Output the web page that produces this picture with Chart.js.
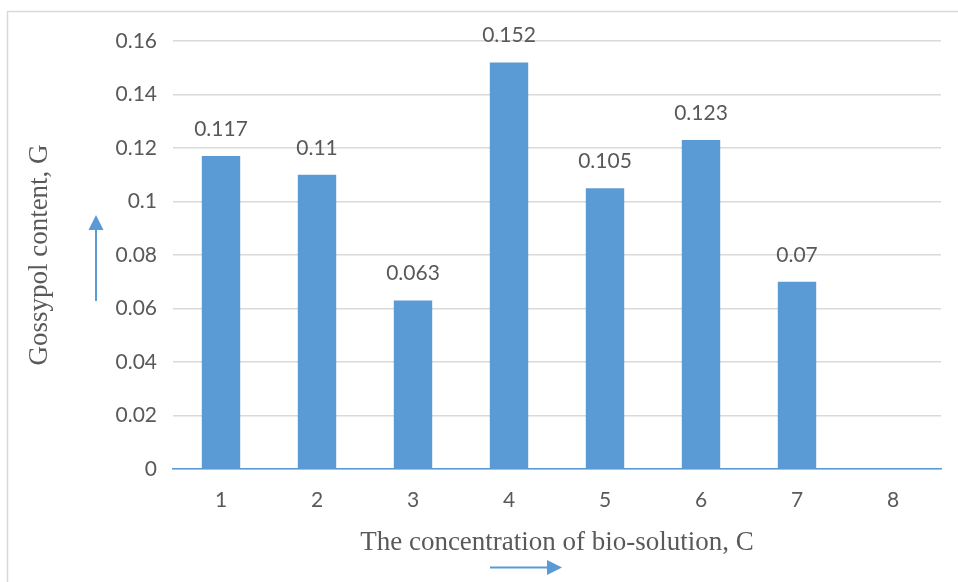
<!DOCTYPE html>
<html>
<head>
<meta charset="utf-8">
<script src="https://cdn.jsdelivr.net/npm/chart.js@4.4.1/dist/chart.umd.min.js"></script>
<style>
  html, body { margin: 0; padding: 0; background: #ffffff; }
  #wrap { position: relative; width: 958px; height: 582px; }
</style>
</head>
<body>
<div id="wrap"><canvas id="chart" width="958" height="582"></canvas></div>
<script>
// Concentration levels of the bio-solution (x categories)
const categories = ['1', '2', '3', '4', '5', '6', '7', '8'];
// Gossypol content measured at each concentration
const gossypol = [0.117, 0.11, 0.063, 0.152, 0.105, 0.123, 0.07, 0];
// Value-axis ticks
const yTicks = [0, 0.02, 0.04, 0.06, 0.08, 0.1, 0.12, 0.14, 0.16];

const xTitle = 'The concentration of bio-solution, C';
const yTitle = 'Gossypol content, G';

const BLUE = '#5B9BD5';
const TEXT = '#595959';
const GRID = '#D9D9D9';
const LABEL_FONT = { family: 'Lato, "Open Sans", sans-serif', size: 21 };
const TITLE_FONT = { family: '"Liberation Serif", "Times New Roman", serif', size: 27 };

// Thin frame around the chart (top and left edges)
const framePlugin = {
  id: 'frame',
  beforeDraw(chart) {
    const ctx = chart.ctx;
    ctx.save();
    ctx.strokeStyle = GRID;
    ctx.lineWidth = 1.5;
    ctx.beginPath();
    ctx.moveTo(7.5, chart.height);
    ctx.lineTo(7.5, 11.5);
    ctx.lineTo(chart.width, 11.5);
    ctx.stroke();
    ctx.restore();
  }
};

// Value labels above each bar
const valueLabels = {
  id: 'valueLabels',
  afterDatasetsDraw(chart) {
    const ctx = chart.ctx;
    const meta = chart.getDatasetMeta(0);
    ctx.save();
    ctx.font = LABEL_FONT.size + 'px ' + LABEL_FONT.family;
    ctx.fillStyle = TEXT;
    ctx.textAlign = 'center';
    ctx.textBaseline = 'alphabetic';
    meta.data.forEach((bar, i) => {
      const v = gossypol[i];
      if (!v) return;
      ctx.fillText(String(v), bar.x, bar.y - 20);
    });
    ctx.restore();
  }
};

// Direction arrows beside the axis titles
function arrow(ctx, x1, y1, x2, y2, head) {
  const ang = Math.atan2(y2 - y1, x2 - x1);
  const bx = x2 - head * Math.cos(ang);
  const by = y2 - head * Math.sin(ang);
  ctx.beginPath();
  ctx.moveTo(x1, y1);
  ctx.lineTo(bx, by);
  ctx.stroke();
  const w = head * 0.5;
  ctx.beginPath();
  ctx.moveTo(x2, y2);
  ctx.lineTo(bx + w * Math.sin(ang), by - w * Math.cos(ang));
  ctx.lineTo(bx - w * Math.sin(ang), by + w * Math.cos(ang));
  ctx.closePath();
  ctx.fill();
}
const arrowsPlugin = {
  id: 'arrows',
  afterDraw(chart) {
    const ctx = chart.ctx;
    ctx.save();
    ctx.strokeStyle = BLUE;
    ctx.fillStyle = BLUE;
    ctx.lineWidth = 2;
    arrow(ctx, 96, 301, 96, 215, 15);
    arrow(ctx, 490, 567.5, 562, 567.5, 15);
    ctx.restore();
  }
};

new Chart(document.getElementById('chart'), {
  type: 'bar',
  data: {
    labels: categories,
    datasets: [{
      data: gossypol,
      backgroundColor: BLUE,
      borderWidth: 0,
      categoryPercentage: 1,
      barPercentage: 0.4
    }]
  },
  options: {
    responsive: false,
    animation: false,
    devicePixelRatio: 1,
    layout: { padding: { top: 41, right: 17, bottom: 0, left: 0 } },
    plugins: { legend: { display: false }, tooltip: { enabled: false } },
    scales: {
      x: {
        grid: { display: false, drawTicks: false },
        border: { display: true, color: BLUE, width: 1.5 },
        ticks: { color: TEXT, font: LABEL_FONT, padding: 19 },
        title: {
          display: true, text: xTitle, color: TEXT, font: TITLE_FONT,
          padding: { top: 0, bottom: 23 }
        },
        afterFit(scale) { scale.height = 113; }
      },
      y: {
        min: 0,
        max: 0.16,
        afterBuildTicks(scale) { scale.ticks = yTicks.map(v => ({ value: v })); },
        grid: { color: GRID, lineWidth: 1.5, drawTicks: false },
        border: { display: false },
        ticks: {
          color: TEXT, font: LABEL_FONT, padding: 16,
          callback: (v) => String(v)
        },
        title: {
          display: true, text: yTitle, color: TEXT, font: TITLE_FONT,
          padding: { top: 24, bottom: 0 }
        },
        afterFit(scale) { scale.width = 173; }
      }
    }
  },
  plugins: [framePlugin, valueLabels, arrowsPlugin]
});
</script>
</body>
</html>
